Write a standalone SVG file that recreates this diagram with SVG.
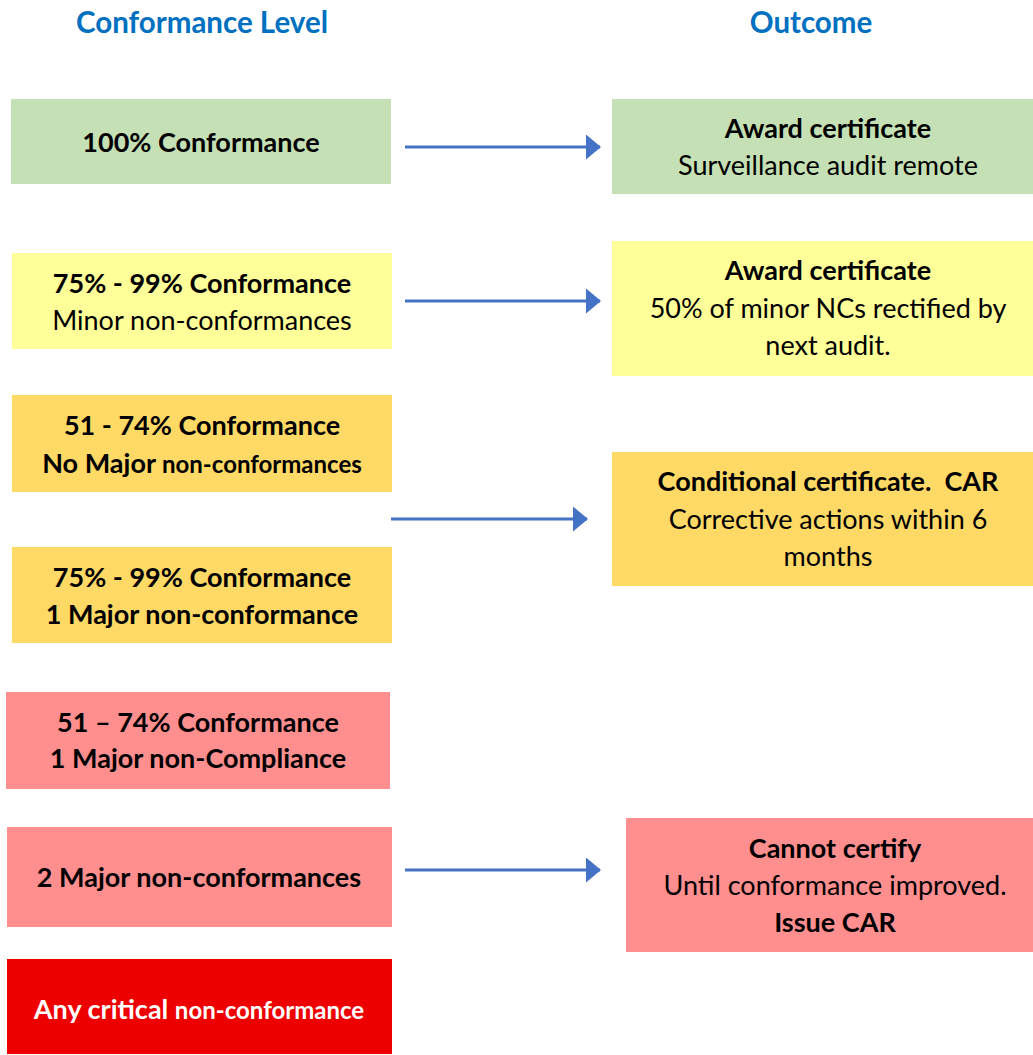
<svg xmlns="http://www.w3.org/2000/svg" width="1033" height="1055" viewBox="0 0 1033 1055">
<defs>
<style>
text{font-family:Lato,"Open Sans","Liberation Sans",sans-serif;font-size:27px;fill:#000;text-anchor:middle}
.h{font-size:29.5px;font-weight:bold;fill:#0070C0}
.b{font-weight:bold}
.s{font-size:24px}
.w{fill:#fff}
.g{fill:#C5E0B4}.y{fill:#FFFF99}.o{fill:#FFD966}.p{fill:#FF8F8F}.r{fill:#EE0000}
.c{stroke:#4472C4;stroke-width:3;fill:none}
</style>
<marker id="ah" viewBox="0 0 15 25" refX="14" refY="12.5" markerWidth="15" markerHeight="25" markerUnits="userSpaceOnUse" orient="auto">
<path d="M0,0 L15,12.5 L0,25 z" fill="#4472C4"/>
</marker>
</defs>
<text class="h" x="202" y="33">Conformance Level</text>
<text class="h" x="811" y="33">Outcome</text>

<g id="l1"><rect class="g" x="11" y="99" width="380" height="85"/><text class="b" x="201" y="152">100% Conformance</text></g>
<g id="l2"><rect class="y" x="12" y="253" width="380" height="96"/><text class="b" x="202" y="293">75% - 99% Conformance</text><text x="202" y="330">Minor non-conformances</text></g>
<g id="l3"><rect class="o" x="12" y="395" width="380" height="97"/><text class="b" x="202" y="435">51 - 74% Conformance</text><text class="b" x="202" y="473">No Major <tspan class="s">non-conformances</tspan></text></g>
<g id="l4"><rect class="o" x="12" y="547" width="380" height="96"/><text class="b" x="202" y="587">75% - 99% Conformance</text><text class="b" x="202" y="624">1 Major non-conformance</text></g>
<g id="l5"><rect class="p" x="6" y="692" width="384" height="97"/><text class="b" x="198" y="732">51 – 74% Conformance</text><text class="b" x="198" y="768">1 Major non-Compliance</text></g>
<g id="l6"><rect class="p" x="7" y="827" width="385" height="100"/><text class="b" x="199" y="887">2 Major non-conformances</text></g>
<g id="l7"><rect class="r" x="7" y="959" width="385" height="95"/><text class="b w" x="199" y="1019">Any critical <tspan class="s">non-conformance</tspan></text></g>

<g id="r1"><rect class="g" x="612" y="99" width="421" height="95"/><text class="b" x="828" y="138">Award certificate</text><text x="828" y="175">Surveillance audit remote</text></g>
<g id="r2"><rect class="y" x="612" y="241" width="421" height="135"/><text class="b" x="828" y="280">Award certificate</text><text x="828" y="318">50% of minor NCs rectified by</text><text x="828" y="355">next audit.</text></g>
<g id="r3"><rect class="o" x="612" y="452" width="421" height="134"/><text class="b" x="828" y="491" xml:space="preserve">Conditional certificate.  CAR</text><text x="828" y="529">Corrective actions within 6</text><text x="828" y="566">months</text></g>
<g id="r4"><rect class="p" x="626" y="818" width="407" height="134"/><text class="b" x="835" y="858">Cannot certify</text><text x="835" y="895">Until conformance improved.</text><text class="b" x="835" y="932">Issue CAR</text></g>

<g id="connectors">
<line class="c" x1="405" y1="147" x2="600" y2="147" marker-end="url(#ah)"/>
<line class="c" x1="405" y1="301" x2="600" y2="301" marker-end="url(#ah)"/>
<line class="c" x1="391" y1="519" x2="587" y2="519" marker-end="url(#ah)"/>
<line class="c" x1="405" y1="870" x2="600" y2="870" marker-end="url(#ah)"/>
</g>
</svg>
